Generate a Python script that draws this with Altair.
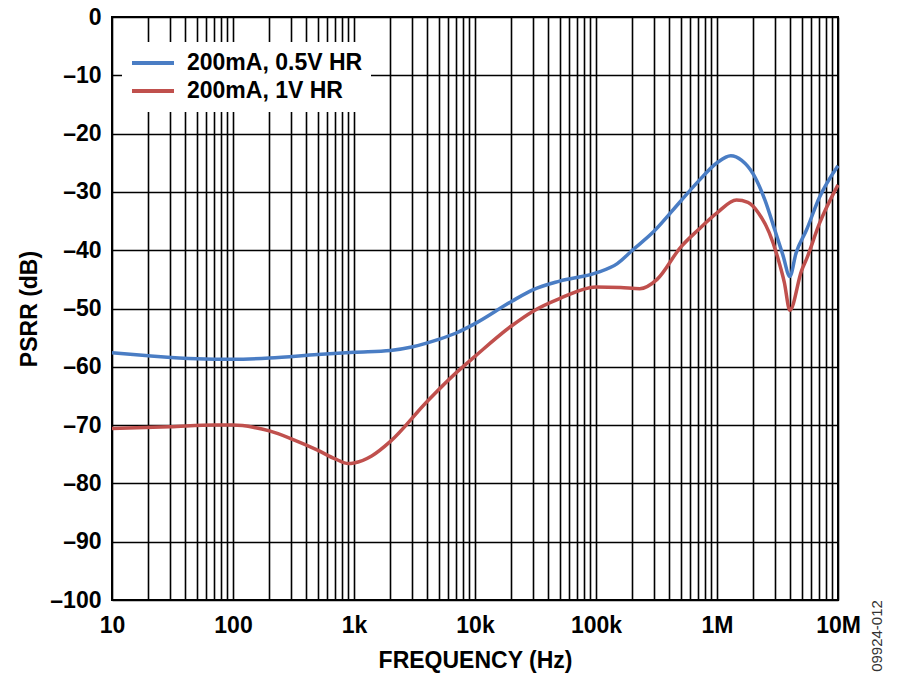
import altair as alt
import pandas as pd

# Blue series: 200mA, 0.5V HR
freq_a = [10, 20, 50, 100, 200, 500, 1000, 2000, 3000, 5000, 7000, 10000, 20000, 30000,
          50000, 100000, 150000, 200000, 300000, 500000, 700000, 1000000, 1300000,
          1600000, 2000000, 2500000, 3000000, 3500000, 4000000, 4500000, 5500000,
          7000000, 10000000]
psrr_a = [-57.6, -58.1, -58.6, -58.7, -58.5, -57.9, -57.5, -57.2, -56.6, -55.3, -54.2,
          -52.6, -48.8, -46.8, -45.3, -43.9, -42.3, -40.0, -36.8, -31.6, -28.2, -25.0,
          -23.8, -24.6, -27.0, -31.5, -36.5, -40.8, -44.5, -40.5, -36.5, -31.0, -25.5]

# Red series: 200mA, 1V HR
freq_b = [10, 30, 70, 100, 150, 200, 300, 500, 700, 900, 1000, 1400, 2000, 4000, 7000,
          10000, 20000, 30000, 50000, 100000, 160000, 230000, 320000, 500000, 700000,
          1000000, 1450000, 1800000, 2200000, 2700000, 3200000, 3600000, 4000000,
          5000000, 5500000, 7000000, 10000000]
psrr_b = [-70.6, -70.3, -70.0, -70.0, -70.4, -71.0, -72.3, -74.3, -75.8, -76.6, -76.5,
          -75.3, -72.8, -66.0, -61.0, -58.2, -53.0, -50.5, -48.3, -46.3, -46.4, -46.6,
          -45.0, -39.5, -36.5, -33.6, -31.4, -31.8, -33.6, -37.0, -41.5, -45.5, -50.3,
          -43.5, -41.5, -35.5, -28.8]

series_names = ["200mA, 0.5V HR", "200mA, 1V HR"]
series_colors = ["#4a7dc4", "#c0504d"]

x_grid_values = [m * 10 ** k for k in range(1, 7) for m in range(1, 10)] + [10 ** 7]
y_ticks = list(range(-100, 1, 10))

df = pd.concat([
    pd.DataFrame({"freq": freq_a, "psrr": psrr_a, "series": series_names[0]}),
    pd.DataFrame({"freq": freq_b, "psrr": psrr_b, "series": series_names[1]}),
])

FONT = "Liberation Sans"

x_label_expr = ("datum.value == 10 ? '10' : datum.value == 100 ? '100' : "
                "datum.value == 1000 ? '1k' : datum.value == 10000 ? '10k' : "
                "datum.value == 100000 ? '100k' : datum.value == 1000000 ? '1M' : "
                "datum.value == 10000000 ? '10M' : ''")

lines = alt.Chart(df).mark_line(strokeWidth=3.5, interpolate="monotone").encode(
    x=alt.X("freq:Q",
            scale=alt.Scale(type="log", domain=[10, 1e7], nice=False),
            axis=alt.Axis(values=x_grid_values, labelExpr=x_label_expr,
                          title="FREQUENCY (Hz)", ticks=False, labelOverlap=False,
                          labelPadding=14, titlePadding=12, labelFlush=False,
                          labelBound=False, domain=False)),
    y=alt.Y("psrr:Q",
            scale=alt.Scale(domain=[-100, 0], nice=False),
            axis=alt.Axis(values=y_ticks, title="PSRR (dB)", ticks=False,
                          labelExpr="datum.value < 0 ? '\u2013' + abs(datum.value) : '0'",
                          labelPadding=11, titlePadding=8, domain=False)),
    color=alt.Color("series:N",
                    scale=alt.Scale(domain=series_names, range=series_colors),
                    legend=alt.Legend(title=None, orient="none", legendX=10, legendY=25,
                                      fillColor="white", padding=8,
                                      symbolType="stroke", symbolStrokeWidth=4,
                                      symbolSize=1764, labelFontSize=23,
                                      labelOffset=11, clipHeight=26, labelLimit=400,
                                      labelFont=FONT, labelFontWeight="bold",
                                      labelColor="black", rowPadding=2)),
)

watermark = alt.Chart(pd.DataFrame({"t": ["09924-012"]})).mark_text(
    angle=270, fontSize=15, font=FONT, color="#333", align="center", baseline="middle"
).encode(text="t:N", x=alt.value(765), y=alt.value(619))

chart = alt.layer(lines, watermark).properties(
    width=726, height=583,
    autosize=alt.AutoSizeParams(type="none"),
    padding={"left": 104, "top": 9, "right": 54, "bottom": 78},
    background="white",
).configure_view(
    stroke="black", strokeWidth=2
).configure_axis(
    gridColor="black", gridWidth=1.6, gridOpacity=1,
    labelFont=FONT, labelFontSize=23, labelFontWeight="bold", labelColor="black",
    titleFont=FONT, titleFontSize=23, titleFontWeight="bold", titleColor="black",
)

chart.save("out.html", embed_options={"renderer": "svg", "actions": False})
